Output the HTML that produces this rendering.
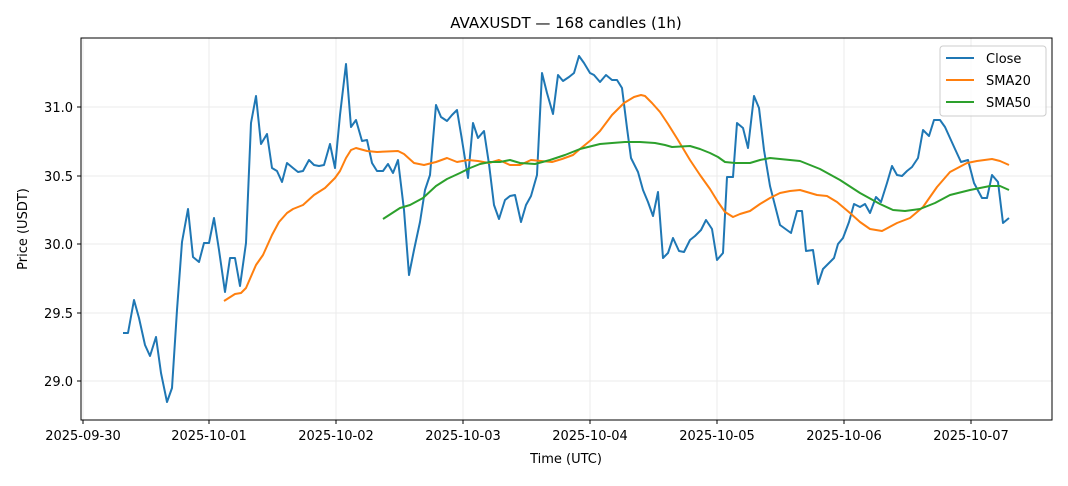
<!DOCTYPE html>
<html><head><meta charset="utf-8"><style>
body{margin:0;background:#fff;}
svg text{font-family:"DejaVu Sans","Liberation Sans",sans-serif;fill:#000;}
</style></head><body>
<svg width="1068" height="481" viewBox="0 0 1068 481" xmlns="http://www.w3.org/2000/svg">
<rect width="1068" height="481" fill="#fff"/>
<text x="566" y="28" font-size="15" text-anchor="middle">AVAXUSDT — 168 candles (1h)</text>
<g stroke="#ebebeb" stroke-width="1">
<line x1="83" y1="38" x2="83" y2="420"/><line x1="209" y1="38" x2="209" y2="420"/><line x1="336" y1="38" x2="336" y2="420"/><line x1="463" y1="38" x2="463" y2="420"/><line x1="590" y1="38" x2="590" y2="420"/><line x1="717" y1="38" x2="717" y2="420"/><line x1="844" y1="38" x2="844" y2="420"/><line x1="971" y1="38" x2="971" y2="420"/>
<line x1="81" y1="381" x2="1052" y2="381"/><line x1="81" y1="313" x2="1052" y2="313"/><line x1="81" y1="244" x2="1052" y2="244"/><line x1="81" y1="176" x2="1052" y2="176"/><line x1="81" y1="107" x2="1052" y2="107"/>
</g>
<g fill="none" stroke-width="2" stroke-linejoin="round">
<polyline stroke="#1f77b4" points="123,333 128,333 134,300 139,318 145,345 150,356 156,337 161,373 167,402 172,388 177,310 182,242 188,209 193,257 199,262 204,243 209,243 214,218 219,250 225,292 230,258 235,258 240,286 246,243 251,123 256,96 261,144 267,134 272,168 277,171 282,182 287,163 293,168 298,172 303,171 309,160 314,165 319,166 324,165 330,144 335,168 340,115 346,64 351,127 356,120 362,141 367,140 372,163 377,171 383,171 388,164 393,173 398,160 404,210 409,275 414,250 420,222 425,190 430,175 436,105 441,117 447,121 452,115 457,110 462,140 468,178 473,123 478,138 484,131 489,164 494,205 499,219 505,200 510,196 515,195 521,222 526,205 531,196 537,175 542,73 547,93 553,114 558,75 563,81 569,77 574,73 579,56 584,63 590,73 594,75 600,82 606,75 612,80 617,80 622,88 627,128 631,158 638,172 643,190 648,202 653,216 658,192 663,258 668,253 673,238 679,251 684,252 690,240 695,236 701,230 706,220 712,229 717,260 723,253 727,177 733,177 737,123 743,128 748,148 754,96 759,108 764,150 770,186 780,225 791,233 797,211 802,211 806,251 813,250 818,284 823,269 829,263 834,258 838,244 843,238 849,222 854,204 860,207 865,204 870,213 876,197 881,202 887,183 892,166 897,175 902,176 907,171 912,167 918,158 923,130 929,136 934,120 940,120 945,127 950,138 955,149 961,162 968,160 974,183 982,198 987,198 992,175 998,182 1003,223 1009,218"/>
<polyline stroke="#ff7f0e" points="224,301 235,294 241,293 246,288 256,265 263,255 272,235 279,222 287,213 293,209 303,205 314,195 325,188 335,178 340,171 346,158 351,150 356,148 367,151 377,152 398,151 404,154 414,163 424,165 436,162 447,158 457,162 468,160 478,161 489,163 499,160 510,165 520,165 531,160 541,161 552,162 562,159 573,155 580,149 591,140 600,131 612,115 624,103 634,97 641,95 645,96 652,103 660,112 668,124 678,140 690,160 700,175 710,189 718,202 725,212 733,217 740,214 750,211 760,204 770,198 780,193 790,191 800,190 817,195 827,196 837,202 850,213 860,222 870,229 882,231 897,223 910,218 923,207 937,187 950,172 967,163 977,161 992,159 1000,161 1009,165"/>
<polyline stroke="#2ca02c" points="383,219 400,208 410,205 423,198 436,186 447,179 460,173 470,168 480,164 490,162 500,162 510,160 520,163 535,164 550,160 565,155 580,149 600,144 612,143 625,142 640,142 655,143 665,145 672,147 690,146 700,149 710,153 718,157 725,162 735,163 750,163 760,160 770,158 790,160 800,161 820,169 840,180 860,193 880,204 893,210 905,211 920,209 935,203 950,195 970,190 990,186 1000,186 1009,190"/>
</g>
<rect x="81" y="38" width="971" height="382" fill="none" stroke="#000" stroke-width="1"/>
<g stroke="#000" stroke-width="1">
<line x1="83" y1="420" x2="83" y2="424"/><line x1="209" y1="420" x2="209" y2="424"/><line x1="336" y1="420" x2="336" y2="424"/><line x1="463" y1="420" x2="463" y2="424"/><line x1="590" y1="420" x2="590" y2="424"/><line x1="717" y1="420" x2="717" y2="424"/><line x1="844" y1="420" x2="844" y2="424"/><line x1="971" y1="420" x2="971" y2="424"/>
<line x1="77" y1="381" x2="81" y2="381"/><line x1="77" y1="313" x2="81" y2="313"/><line x1="77" y1="244" x2="81" y2="244"/><line x1="77" y1="176" x2="81" y2="176"/><line x1="77" y1="107" x2="81" y2="107"/>
</g>
<g font-size="13" text-anchor="middle">
<text x="83" y="440">2025-09-30</text><text x="209" y="440">2025-10-01</text><text x="336" y="440">2025-10-02</text><text x="463" y="440">2025-10-03</text><text x="590" y="440">2025-10-04</text><text x="717" y="440">2025-10-05</text><text x="844" y="440">2025-10-06</text><text x="971" y="440">2025-10-07</text>
</g>
<g font-size="13" text-anchor="end">
<text x="73" y="386">29.0</text><text x="73" y="318">29.5</text><text x="73" y="249">30.0</text><text x="73" y="181">30.5</text><text x="73" y="112">31.0</text>
</g>
<text x="566" y="463" font-size="13" text-anchor="middle">Time (UTC)</text>
<text x="27" y="229" font-size="13" text-anchor="middle" transform="rotate(-90 27 229)">Price (USDT)</text>
<rect x="940" y="46" width="106" height="70" rx="3" fill="#fff" fill-opacity="0.8" stroke="#ccc"/>
<g stroke-width="2"><line x1="946" y1="58" x2="974" y2="58" stroke="#1f77b4"/><line x1="946" y1="80" x2="974" y2="80" stroke="#ff7f0e"/><line x1="946" y1="102" x2="974" y2="102" stroke="#2ca02c"/></g>
<g font-size="13"><text x="986" y="63">Close</text><text x="986" y="85">SMA20</text><text x="986" y="107">SMA50</text></g>
</svg>
</body></html>
